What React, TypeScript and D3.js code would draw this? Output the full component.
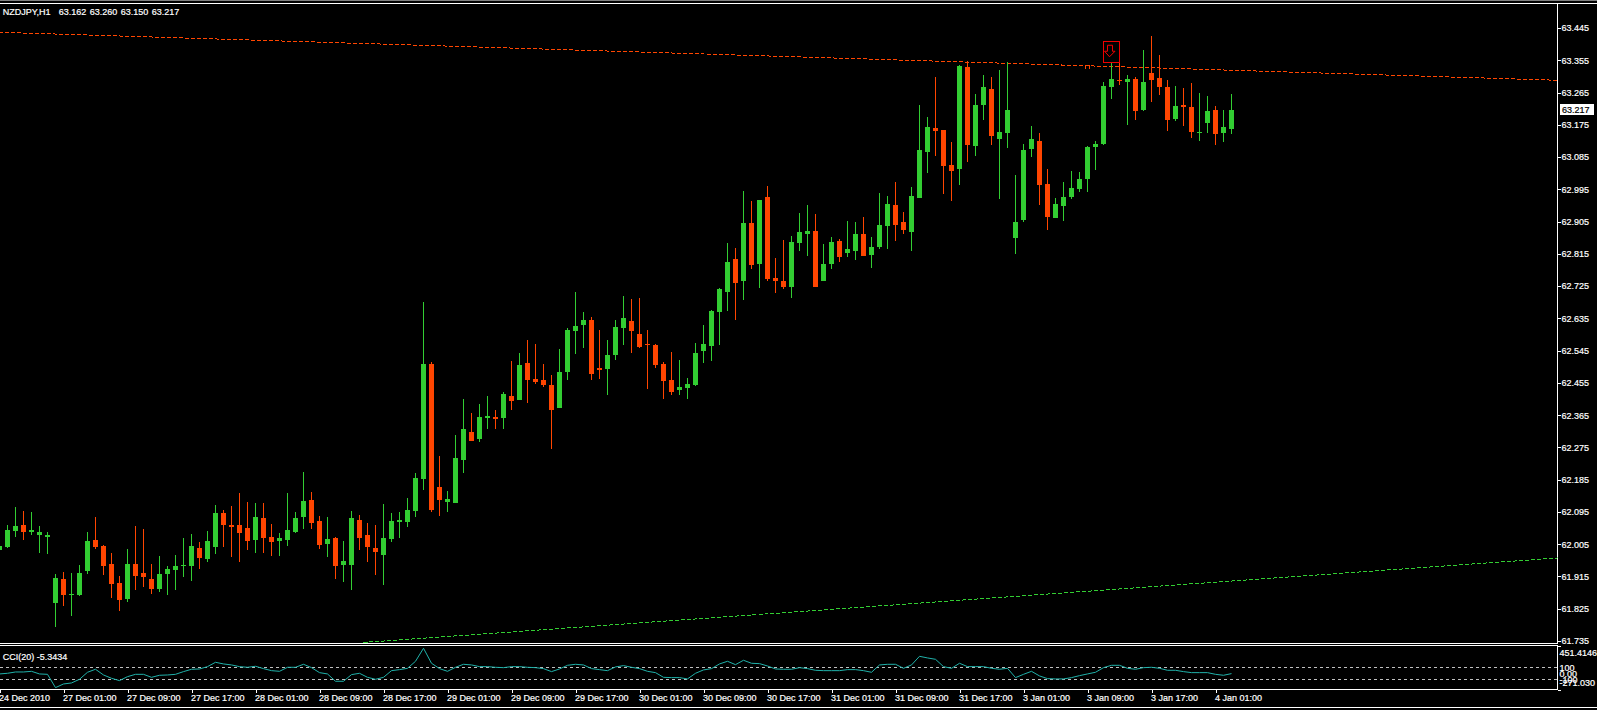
import { useRef, useEffect } from 'react';
import * as d3 from 'd3';

const opens = [
  61.989, 61.997, 62.042, 62.058, 62.039, 62.031, 62.025, 61.841, 61.908, 61.863,
  61.863, 61.93, 62.017, 62.0, 61.95, 61.897, 61.852, 61.95, 61.925, 61.908,
  61.88, 61.922, 61.933, 61.944, 61.944, 61.994, 61.964, 61.997, 62.092, 62.058,
  62.058, 62.05, 62.017, 62.078, 62.025, 62.014, 62.017, 62.039, 62.081, 62.128,
  62.07, 62.005, 62.022, 61.947, 61.947, 62.072, 62.031, 61.994, 61.975, 62.019,
  62.067, 62.067, 62.098, 62.187, 62.508, 62.164, 62.123, 62.12, 62.24, 62.318,
  62.298, 62.357, 62.36, 62.357, 62.418, 62.407, 62.51, 62.466, 62.463, 62.449,
  62.385, 62.485, 62.6, 62.616, 62.63, 62.496, 62.494, 62.533, 62.608, 62.628,
  62.591, 62.563, 62.561, 62.508, 62.463, 62.435, 62.441, 62.449, 62.544, 62.558,
  62.653, 62.709, 62.801, 62.739, 62.901, 62.787, 62.974, 62.748, 62.739, 62.722,
  62.845, 62.87, 62.879, 62.739, 62.787, 62.851, 62.817, 62.823, 62.87, 62.812,
  62.834, 62.893, 62.951, 62.904, 62.876, 62.97, 63.099, 63.166, 63.16, 63.062,
  63.051, 63.336, 63.115, 63.23, 63.274, 63.135, 63.152, 62.859, 62.909, 63.107,
  63.129, 63.009, 62.914, 62.948, 62.973, 62.995, 63.023, 63.113, 63.121, 63.28,
  63.3, 63.294, 63.302, 63.216, 63.319, 63.305, 63.28, 63.191, 63.23, 63.224,
  63.152, 63.18, 63.216, 63.152, 63.162,
];

const highs = [
  62.003, 62.058, 62.109, 62.098, 62.095, 62.056, 62.039, 61.922, 61.927, 61.925,
  61.947, 62.039, 62.081, 62.003, 61.98, 61.916, 61.991, 62.056, 62.047, 61.95,
  61.972, 61.944, 61.975, 62.022, 62.033, 62.011, 62.042, 62.114, 62.1, 62.111,
  62.148, 62.123, 62.12, 62.12, 62.061, 62.036, 62.148, 62.095, 62.206, 62.151,
  62.084, 62.081, 62.025, 62.014, 62.098, 62.086, 62.064, 62.058, 62.117, 62.092,
  62.095, 62.134, 62.204, 62.681, 62.513, 62.251, 62.154, 62.31, 62.41, 62.371,
  62.396, 62.418, 62.379, 62.43, 62.516, 62.538, 62.575, 62.563, 62.508, 62.477,
  62.549, 62.608, 62.709, 62.653, 62.639, 62.602, 62.575, 62.63, 62.697, 62.689,
  62.692, 62.602, 62.563, 62.513, 62.541, 62.519, 62.469, 62.566, 62.617, 62.658,
  62.72, 62.845, 62.831, 62.99, 62.962, 62.965, 63.004, 62.803, 62.854, 62.865,
  62.929, 62.951, 62.926, 62.842, 62.862, 62.856, 62.907, 62.904, 62.918, 62.862,
  62.985, 62.976, 63.015, 62.932, 63.001, 63.23, 63.196, 63.308, 63.16, 63.127,
  63.341, 63.353, 63.26, 63.313, 63.308, 63.327, 63.35, 63.034, 63.121, 63.171,
  63.152, 63.051, 62.97, 63.015, 63.046, 63.043, 63.115, 63.129, 63.294, 63.35,
  63.349, 63.313, 63.308, 63.383, 63.422, 63.369, 63.3, 63.283, 63.277, 63.291,
  63.263, 63.255, 63.227, 63.216, 63.26,
];

const lows = [
  61.986, 61.994, 62.025, 62.017, 62.031, 61.98, 61.978, 61.774, 61.832, 61.805,
  61.86, 61.922, 61.991, 61.919, 61.855, 61.818, 61.844, 61.877, 61.885, 61.866,
  61.872, 61.863, 61.877, 61.913, 61.902, 61.936, 61.955, 61.978, 61.997, 61.969,
  61.955, 61.989, 61.98, 61.98, 61.972, 61.972, 62.0, 62.036, 62.047, 62.047,
  61.991, 61.969, 61.908, 61.899, 61.877, 61.989, 61.955, 61.919, 61.891, 62.011,
  62.022, 62.053, 62.082, 62.156, 62.095, 62.084, 62.095, 62.12, 62.204, 62.293,
  62.29, 62.326, 62.326, 62.326, 62.379, 62.407, 62.399, 62.452, 62.443, 62.27,
  62.385, 62.463, 62.536, 62.552, 62.463, 62.466, 62.421, 62.519, 62.561, 62.538,
  62.552, 62.438, 62.496, 62.41, 62.421, 62.421, 62.41, 62.446, 62.51, 62.515,
  62.561, 62.656, 62.63, 62.686, 62.773, 62.72, 62.739, 62.706, 62.717, 62.692,
  62.823, 62.809, 62.722, 62.739, 62.773, 62.792, 62.806, 62.798, 62.809, 62.776,
  62.829, 62.829, 62.851, 62.87, 62.823, 62.97, 63.04, 63.087, 62.981, 62.962,
  63.007, 63.071, 63.087, 63.188, 63.118, 62.967, 63.11, 62.814, 62.903, 63.085,
  62.951, 62.881, 62.914, 62.906, 62.967, 62.987, 62.987, 63.048, 63.118, 63.246,
  63.286, 63.174, 63.188, 63.213, 63.238, 63.258, 63.157, 63.185, 63.171, 63.138,
  63.129, 63.152, 63.118, 63.127, 63.15,
];

const closes = [
  62.0, 62.044, 62.056, 62.039, 62.044, 62.039, 62.031, 61.911, 61.863, 61.866,
  61.925, 62.014, 61.997, 61.944, 61.894, 61.849, 61.95, 61.916, 61.913, 61.88,
  61.922, 61.936, 61.944, 61.947, 62.0, 61.966, 62.014, 62.092, 62.058, 62.053,
  62.036, 62.014, 62.081, 62.022, 62.011, 62.022, 62.044, 62.078, 62.125, 62.064,
  62.003, 62.019, 61.944, 61.958, 62.078, 62.022, 61.997, 61.983, 62.022, 62.07,
  62.072, 62.101, 62.19, 62.508, 62.101, 62.128, 62.131, 62.245, 62.326, 62.293,
  62.36, 62.363, 62.354, 62.424, 62.404, 62.505, 62.463, 62.457, 62.449, 62.379,
  62.485, 62.603, 62.614, 62.63, 62.48, 62.491, 62.533, 62.611, 62.636, 62.6,
  62.555, 62.561, 62.505, 62.46, 62.43, 62.443, 62.452, 62.538, 62.564, 62.656,
  62.717, 62.792, 62.734, 62.901, 62.784, 62.965, 62.745, 62.739, 62.722, 62.848,
  62.876, 62.879, 62.722, 62.787, 62.848, 62.806, 62.829, 62.87, 62.809, 62.834,
  62.895, 62.954, 62.895, 62.882, 62.976, 63.104, 63.168, 63.157, 63.06, 63.046,
  63.339, 63.118, 63.23, 63.28, 63.143, 63.154, 63.216, 62.903, 63.104, 63.135,
  63.007, 62.917, 62.954, 62.973, 62.998, 63.023, 63.113, 63.121, 63.283, 63.302,
  63.297, 63.302, 63.213, 63.294, 63.3, 63.28, 63.188, 63.227, 63.224, 63.154,
  63.154, 63.213, 63.149, 63.168, 63.217,
];

const cci = [
  -11, 0, 22, 22, 33, -11, -17, -239, -178, -161,
  -100, 17, 67, -28, -83, -122, -56, -17, -17, -67,
  -33, -28, -17, 28, 67, 72, 111, 183, 156, 139,
  111, 100, 117, 78, 44, 33, 100, 100, 150, 94,
  11, -11, -133, -133, -22, 0, -67, -100, -67, 44,
  61, 83, 200, 417, 167, 78, 33, 100, 150, 139,
  111, 111, 100, 94, 111, 111, 100, 94, 78, 28,
  72, 133, 150, 139, 78, 61, 44, 106, 128, 100,
  78, 33, 11, -67, -72, -72, -94, 0, 56, 78,
  156, 200, 144, 217, 167, 161, 122, 72, 67, 67,
  94, 78, 50, 44, 44, 44, 61, 61, 44, 17,
  139, 150, 150, 83, 139, 283, 256, 233, 111, 83,
  167, 111, 111, 111, 83, 67, 83, -72, -17, 33,
  -44, -89, -94, -94, -72, -39, -11, 17, 94, 133,
  133, 83, 67, 94, 100, 83, 50, 50, 28, 11,
  11, 11, -17, -33, -5.3434,
];

const priceTicks = [
  63.445, 63.355, 63.265, 63.175, 63.085, 62.995, 62.905, 62.815, 62.725, 62.635,
  62.545, 62.455, 62.365, 62.275, 62.185, 62.095, 62.005, 61.915, 61.825, 61.735,
];

const timeTickBars = [0, 8, 16, 24, 32, 40, 48, 56, 64, 72, 80, 88, 96, 104, 112, 120, 128, 136, 144, 152];
const timeTickLabels = [
  '24 Dec 2010', '27 Dec 01:00', '27 Dec 09:00', '27 Dec 17:00', '28 Dec 01:00',
  '28 Dec 09:00', '28 Dec 17:00', '29 Dec 01:00', '29 Dec 09:00', '29 Dec 17:00',
  '30 Dec 01:00', '30 Dec 09:00', '30 Dec 17:00', '31 Dec 01:00', '31 Dec 09:00',
  '31 Dec 17:00', '3 Jan 01:00', '3 Jan 09:00', '3 Jan 17:00', '4 Jan 01:00',
];

const cciTicks = [451.4146, 100, 0, -100, -271.03];
const cciTickLabels = ['451.4146', '100', '0.00', '-100', '-271.030'];
const cciLevels = [100, -100];

// trendlines as [bar, price]
const resistanceLine: [number, number][] = [[0, 63.433], [195, 63.299]];
const supportLine: [number, number][] = [[45.5, 61.731], [195, 61.967]];

const signalBar = 139;
const signalBoxTop = 63.408;
const signalMarkBars = [135.7, 136.2];
const signalMarkRange = [63.341, 63.331];

const WIDTH = 1597;
const HEIGHT = 710;
const PANEL_RIGHT = 1557.5;
const GREEN = '#32cd32';
const RED = '#ff4500';
const FONT = '"Liberation Sans", Arial, sans-serif';

export default function App() {
  const svgRef = useRef<SVGSVGElement>(null);

  useEffect(() => {
    if (!svgRef.current) return;

    const svg = d3.select(svgRef.current);
    svg.selectAll('*').remove();

    const x = d3.scaleLinear().domain([0, 154]).range([-0.5, 1231.5]);
    const y = d3.scaleLinear().domain([61.735, 63.445]).range([641, 28]);
    const yCci = d3.scaleLinear().domain([-271.03, 451.4146]).range([689.56, 646.2]);

    svg.append('rect').attr('width', WIDTH).attr('height', HEIGHT).attr('fill', '#000');

    const defs = svg.append('defs');
    defs.append('clipPath').attr('id', 'main-clip').append('rect')
      .attr('x', 0).attr('y', 4).attr('width', PANEL_RIGHT).attr('height', 639);
    defs.append('clipPath').attr('id', 'cci-clip').append('rect')
      .attr('x', 0).attr('y', 646).attr('width', PANEL_RIGHT).attr('height', 43);

    // Frame
    const frame = svg.append('g').attr('shape-rendering', 'crispEdges').attr('stroke', '#fff').attr('fill', 'none');
    svg.append('rect').attr('width', WIDTH).attr('height', 1).attr('fill', '#808080');
    frame.append('line').attr('x1', 0).attr('x2', WIDTH).attr('y1', 3.5).attr('y2', 3.5);
    frame.append('line').attr('x1', 0).attr('x2', PANEL_RIGHT).attr('y1', 643.5).attr('y2', 643.5);
    frame.append('line').attr('x1', 0).attr('x2', PANEL_RIGHT).attr('y1', 645.5).attr('y2', 645.5);
    frame.append('line').attr('x1', 0).attr('x2', PANEL_RIGHT).attr('y1', 689.5).attr('y2', 689.5);
    frame.append('line').attr('x1', 0).attr('x2', WIDTH).attr('y1', 707.5).attr('y2', 707.5);
    frame.append('line').attr('x1', PANEL_RIGHT).attr('x2', PANEL_RIGHT).attr('y1', 3).attr('y2', 644);
    frame.append('line').attr('x1', PANEL_RIGHT).attr('x2', PANEL_RIGHT).attr('y1', 645).attr('y2', 690);

    const main = svg.append('g').attr('clip-path', 'url(#main-clip)');

    // Trendlines
    const trend = d3.line<[number, number]>().x((d) => x(d[0])).y((d) => y(d[1]));
    main.append('path').attr('d', trend(resistanceLine)).attr('stroke', RED)
      .attr('fill', 'none').attr('stroke-dasharray', '4,2').attr('shape-rendering', 'crispEdges');
    main.append('path').attr('d', trend(supportLine)).attr('stroke', GREEN)
      .attr('fill', 'none').attr('stroke-dasharray', '4,2').attr('shape-rendering', 'crispEdges');
    main.selectAll('line.mark').data(signalMarkBars).join('line').attr('class', 'mark')
      .attr('x1', (d) => x(d)).attr('x2', (d) => x(d))
      .attr('y1', y(signalMarkRange[0])).attr('y2', y(signalMarkRange[1]))
      .attr('stroke', RED).attr('shape-rendering', 'crispEdges');

    // Candles
    const bars = d3.range(closes.length);
    const candle = main.append('g').attr('shape-rendering', 'crispEdges');
    const colorOf = (i: number) => (closes[i] >= opens[i] ? GREEN : RED);
    candle.selectAll('rect.wick').data(bars).join('rect').attr('class', 'wick')
      .attr('x', (i) => x(i) - 0.5)
      .attr('width', 1)
      .attr('y', (i) => Math.round(y(highs[i])))
      .attr('height', (i) => Math.max(1, Math.round(y(lows[i])) - Math.round(y(highs[i]))))
      .attr('fill', colorOf);
    candle.selectAll('rect.body').data(bars).join('rect').attr('class', 'body')
      .attr('x', (i) => x(i) - 2.5)
      .attr('width', 5)
      .attr('y', (i) => Math.round(y(Math.max(opens[i], closes[i]))))
      .attr('height', (i) => Math.max(1, Math.round(y(Math.min(opens[i], closes[i]))) - Math.round(y(Math.max(opens[i], closes[i])))))
      .attr('fill', colorOf);

    // Signal arrow
    const sx = x(signalBar);
    main.append('rect')
      .attr('x', x(signalBar - 1)).attr('width', x(signalBar + 1) - x(signalBar - 1))
      .attr('y', Math.round(y(signalBoxTop)) + 0.5)
      .attr('height', Math.round(y(highs[signalBar]) - y(signalBoxTop)))
      .attr('fill', 'none').attr('stroke', '#f00000').attr('shape-rendering', 'crispEdges');
    main.append('polygon')
      .attr('transform', `translate(${sx},${y(signalBoxTop)})`)
      .attr('points', '-4,4 1,4 1,10 3.5,10 -2,15.5 -7,10 -4,10')
      .attr('fill', 'none').attr('stroke', '#f00000');

    // CCI panel
    const cciPanel = svg.append('g').attr('clip-path', 'url(#cci-clip)');
    cciPanel.selectAll('line').data(cciLevels).join('line')
      .attr('x1', 0).attr('x2', PANEL_RIGHT)
      .attr('y1', (d) => Math.round(yCci(d)) + 0.5).attr('y2', (d) => Math.round(yCci(d)) + 0.5)
      .attr('stroke', '#c0c0c0').attr('stroke-dasharray', '3,3').attr('shape-rendering', 'crispEdges');
    const cciLine = d3.line<number>().x((_d, i) => x(i)).y((d) => yCci(d));
    cciPanel.append('path').attr('d', cciLine(cci)).attr('fill', 'none').attr('stroke', '#20b2aa');

    // Axes
    const styleAxis = (g: d3.Selection<SVGGElement, unknown, null, undefined>) => {
      g.select('.domain').remove();
      g.selectAll('.tick line').attr('stroke', '#fff').attr('shape-rendering', 'crispEdges');
      g.selectAll('text').attr('fill', '#fff').attr('font-size', '9px').attr('font-family', FONT);
    };

    svg.append('g').attr('transform', `translate(${PANEL_RIGHT},0)`)
      .call(d3.axisRight(y).tickValues(priceTicks).tickFormat(d3.format('.3f')).tickSize(3).tickPadding(1))
      .call(styleAxis);

    const cciAxis = svg.append('g').attr('transform', `translate(${PANEL_RIGHT},0)`)
      .call(d3.axisRight(yCci).tickValues(cciTicks)
        .tickFormat((_d, i) => cciTickLabels[i]).tickSize(0).tickPadding(2))
      .call(styleAxis);
    // the end labels sit inside the panel, and only they get a tick
    const cciEnds = cciAxis.selectAll('.tick').filter((_d, i) => i === 0 || i === cciTicks.length - 1);
    cciEnds.append('line').attr('x2', 3).attr('stroke', '#fff').attr('shape-rendering', 'crispEdges');
    cciEnds.select('text').attr('y', (_d, i) => (i === 0 ? 6 : -7));

    const timeAxis = svg.append('g').attr('transform', 'translate(0,689.5)')
      .call(d3.axisBottom(x).tickValues(timeTickBars)
        .tickFormat((_d, i) => timeTickLabels[i]).tickSize(3).tickPadding(2))
      .call(styleAxis);
    timeAxis.selectAll('text').attr('text-anchor', 'start').attr('x', -1);

    // Titles
    svg.append('text').attr('x', 2.7).attr('y', 14.5).attr('fill', '#fff')
      .attr('font-size', '9px').attr('font-family', FONT).text('NZDJPY,H1');
    svg.append('text').attr('x', 58.7).attr('y', 14.5).attr('fill', '#fff')
      .attr('font-size', '9px').attr('font-family', FONT).attr('word-spacing', '1px')
      .text('63.162 63.260 63.150 63.217');
    svg.append('text').attr('x', 2.7).attr('y', 659.5).attr('fill', '#fff')
      .attr('font-size', '9px').attr('font-family', FONT).text('CCI(20) -5.3434');

    // Last price tag
    const last = closes[closes.length - 1];
    svg.append('rect').attr('x', 1560).attr('y', Math.round(y(last)) - 6).attr('width', 34).attr('height', 11)
      .attr('fill', '#fff').attr('shape-rendering', 'crispEdges');
    svg.append('text').attr('x', 1562).attr('y', y(last)).attr('dy', '0.32em').attr('fill', '#000')
      .attr('font-size', '9px').attr('font-family', FONT).text(d3.format('.3f')(last));

    // bitmap labels in the original read heavier than antialiased 9px
    svg.selectAll<SVGTextElement, unknown>('text')
      .attr('stroke', function () { return this.getAttribute('fill'); })
      .attr('stroke-width', 0.2);
  }, []);

  return (
    <svg
      ref={svgRef}
      width={WIDTH}
      height={HEIGHT}
      style={{ position: 'absolute', left: 0, top: 0, display: 'block' }}
    />
  );
}
